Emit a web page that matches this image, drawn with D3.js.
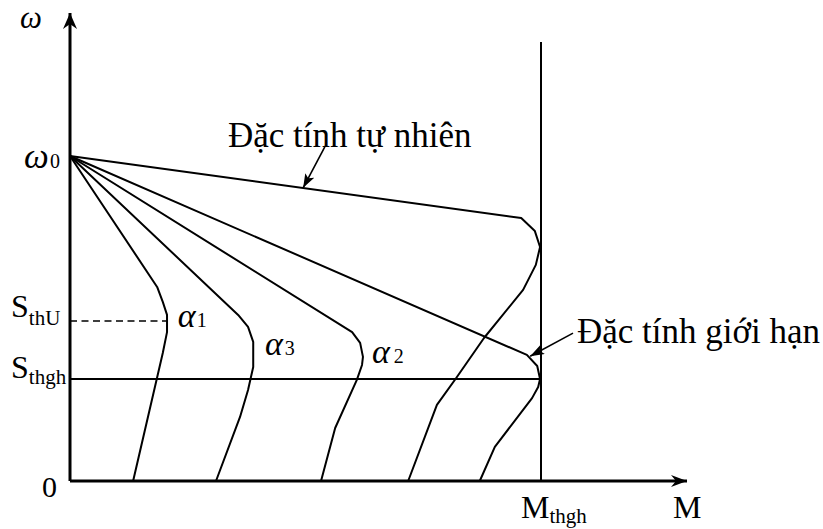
<!DOCTYPE html>
<html>
<head>
<meta charset="utf-8">
<script src="https://cdn.jsdelivr.net/npm/d3@7"></script>
<style>
  html, body { margin: 0; padding: 0; background: #fff; }
  svg { display: block; }
  text { font-family: "Liberation Serif", "Times New Roman", serif; fill: #000; }
</style>
</head>
<body>
<svg id="chart" width="823" height="529"></svg>
<script>
// Mechanical characteristics ω(M) of an induction motor (normalised: M_thgh = 1, ω0 = 1)
const mThgh = 1;
const omega0 = 1;
const sThgh = 0.314;
const sThU = 0.492;
const axisMaxM = 1.31;
const axisMaxW = 1.44;
const limitLineTop = 1.351;

// Natural characteristic
const naturalCurve = [[0, 1], [0.958, 0.809], [0.987, 0.769], [0.998, 0.72], [0.989, 0.665],
  [0.962, 0.588], [0.879, 0.44], [0.82, 0.317], [0.779, 0.234], [0.718, 0]];
// Limit characteristic
const limitCurve = [[0, 1], [0.970, 0.388], [0.992, 0.354], [0.998, 0.314], [0.994, 0.289],
  [0.981, 0.255], [0.902, 0.105], [0.870, 0]];
// Characteristics for control angles α2, α3, α1
const alpha2Curve = [[0, 1], [0.599, 0.458], [0.616, 0.425], [0.622, 0.382], [0.620, 0.357],
  [0.609, 0.311], [0.563, 0.163], [0.533, 0]];
const alpha3Curve = [[0, 1], [0.357, 0.511], [0.378, 0.474], [0.389, 0.428], [0.389, 0.351],
  [0.378, 0.28], [0.361, 0.197], [0.310, 0]];
const alpha1Curve = [[0, 1], [0.185, 0.597], [0.197, 0.551], [0.206, 0.511], [0.206, 0.458],
  [0.197, 0.394], [0.134, 0]];

const curves = [naturalCurve, limitCurve, alpha2Curve, alpha3Curve, alpha1Curve];

// Curve labels: [M, ω, name, index, gap]
const alphaLabels = [
  [0.229, 0.474, "α", "1", 1],
  [0.414, 0.388, "α", "3", 2],
  [0.641, 0.363, "α", "2", 4]
];

const svg = d3.select("#chart");
const x = d3.scaleLinear().domain([0, 1]).range([70, 541]);
const y = d3.scaleLinear().domain([0, 1]).range([481, 156]);

// Arrowhead markers
const defs = svg.append("defs");
defs.append("marker")
  .attr("id", "axisHead").attr("viewBox", "0 0 16 14")
  .attr("refX", 16).attr("refY", 7)
  .attr("markerWidth", 16).attr("markerHeight", 14)
  .attr("markerUnits", "userSpaceOnUse").attr("orient", "auto")
  .append("path").attr("d", "M0,0 L16,7 L0,14 L5,7 Z").attr("fill", "#000");
defs.append("marker")
  .attr("id", "axisHeadX").attr("viewBox", "0 0 16 12")
  .attr("refX", 16).attr("refY", 6)
  .attr("markerWidth", 16).attr("markerHeight", 12)
  .attr("markerUnits", "userSpaceOnUse").attr("orient", "auto")
  .append("path").attr("d", "M0,0 L16,6 L0,12 L5,6 Z").attr("fill", "#000");
defs.append("marker")
  .attr("id", "noteHead").attr("viewBox", "0 0 14 10")
  .attr("refX", 14).attr("refY", 5)
  .attr("markerWidth", 14).attr("markerHeight", 10)
  .attr("markerUnits", "userSpaceOnUse").attr("orient", "auto")
  .append("path").attr("d", "M0,0 L14,5 L0,10 L3,5 Z").attr("fill", "#000");

// Axes
svg.append("line")
  .attr("x1", x(0)).attr("y1", y(0)).attr("x2", x(0)).attr("y2", y(axisMaxW))
  .attr("stroke", "#000").attr("stroke-width", 3).attr("marker-end", "url(#axisHead)");
svg.append("line")
  .attr("x1", x(0)).attr("y1", y(0)).attr("x2", x(axisMaxM)).attr("y2", y(0))
  .attr("stroke", "#000").attr("stroke-width", 3).attr("marker-end", "url(#axisHeadX)");

// Breakdown torque limit and slip levels
svg.append("line")
  .attr("x1", x(mThgh)).attr("y1", y(0)).attr("x2", x(mThgh)).attr("y2", y(limitLineTop))
  .attr("stroke", "#000").attr("stroke-width", 2);
svg.append("line")
  .attr("x1", x(0)).attr("y1", y(sThgh)).attr("x2", x(mThgh)).attr("y2", y(sThgh))
  .attr("stroke", "#000").attr("stroke-width", 2);
svg.append("line")
  .attr("x1", x(0)).attr("y1", y(sThU)).attr("x2", x(0.206)).attr("y2", y(sThU))
  .attr("stroke", "#000").attr("stroke-width", 1.5).attr("stroke-dasharray", "7,4.5");

// Characteristic curves
const line = d3.line().x(d => x(d[0])).y(d => y(d[1]));
svg.selectAll("path.curve").data(curves).enter().append("path")
  .attr("class", "curve")
  .attr("d", line)
  .attr("fill", "none").attr("stroke", "#000").attr("stroke-width", 2)
  .attr("stroke-linejoin", "round");

// Annotation arrows
const notes = [
  { from: [0.541, 1.028], to: [0.495, 0.902] },
  { from: [1.068, 0.455], to: [0.977, 0.384] }
];
svg.selectAll("line.note").data(notes).enter().append("line")
  .attr("class", "note")
  .attr("x1", d => x(d.from[0])).attr("y1", d => y(d.from[1]))
  .attr("x2", d => x(d.to[0])).attr("y2", d => y(d.to[1]))
  .attr("stroke", "#000").attr("stroke-width", 1.6).attr("marker-end", "url(#noteHead)");

svg.append("text").attr("x", 228).attr("y", 147).attr("font-size", 35).text("Đặc tính tự nhiên");
svg.append("text").attr("x", 577).attr("y", 343).attr("font-size", 35).text("Đặc tính giới hạn");

// Axis labels
svg.append("text").attr("x", 20).attr("y", 28).attr("font-size", 31).attr("font-style", "italic").text("ω");
svg.append("text").attr("x", 24).attr("y", y(omega0) + 12).attr("font-size", 35).attr("font-style", "italic").text("ω");
svg.append("text").attr("x", 50).attr("y", y(omega0) + 12).attr("font-size", 20).text("0");
svg.append("text").attr("x", 42).attr("y", 497).attr("font-size", 30).text("0");
svg.append("text").attr("x", 673).attr("y", 518).attr("font-size", 32).text("M");

const mLab = svg.append("text").attr("x", 521).attr("y", 518).attr("font-size", 32);
mLab.append("tspan").text("M");
mLab.append("tspan").attr("font-size", 21).attr("dy", 5).text("thgh");

const sU = svg.append("text").attr("x", 11).attr("y", y(sThU) - 4).attr("font-size", 32);
sU.append("tspan").text("S");
sU.append("tspan").attr("font-size", 21).attr("dy", 8).text("thU");

const sG = svg.append("text").attr("x", 11).attr("y", y(sThgh) - 1).attr("font-size", 32);
sG.append("tspan").text("S");
sG.append("tspan").attr("font-size", 21).attr("dy", 6).text("thgh");

// α labels
alphaLabels.forEach(d => {
  const t = svg.append("text").attr("x", x(d[0])).attr("y", y(d[1]));
  t.append("tspan").attr("font-size", 34).attr("font-style", "italic").text(d[2]);
  t.append("tspan").attr("font-size", 20).attr("dx", d[4]).text(d[3]);
});
</script>
</body>
</html>
